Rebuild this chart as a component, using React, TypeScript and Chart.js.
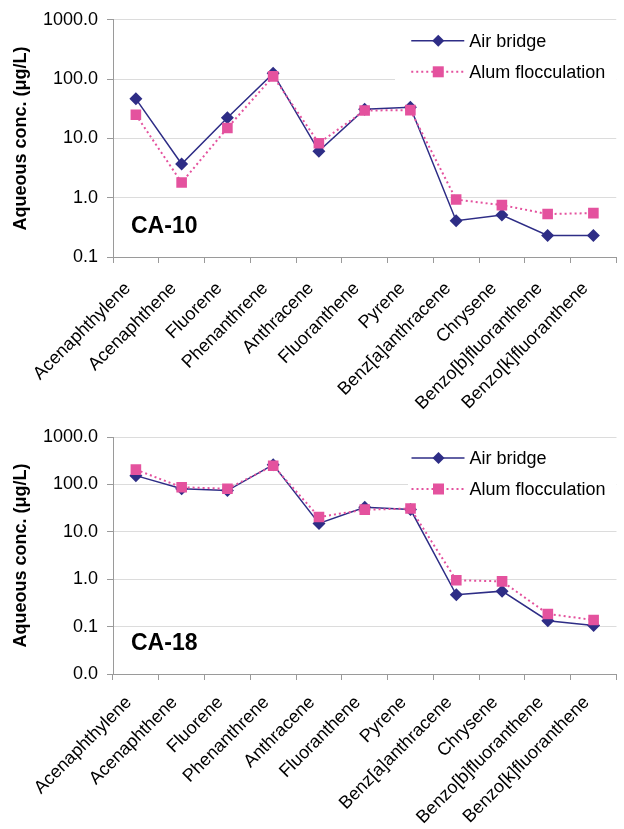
import React, { useEffect, useRef } from 'react';
import { Chart, registerables } from 'chart.js';

Chart.register(...registerables);
Chart.defaults.font.family = '"Liberation Sans", Arial, Helvetica, sans-serif';

// ---------------- DATA ----------------
const categories = [
  'Acenaphthylene',
  'Acenaphthene',
  'Fluorene',
  'Phenanthrene',
  'Anthracene',
  'Fluoranthene',
  'Pyrene',
  'Benz[a]anthracene',
  'Chrysene',
  'Benzo[b]fluoranthene',
  'Benzo[k]fluoranthene',
];

const seriesNames = ['Air bridge', 'Alum flocculation'];

const ca10AirBridge = [46.5, 3.7, 22.3, 125, 6.1, 31, 33.5, 0.41, 0.51, 0.23, 0.23];
const ca10Alum = [25, 1.8, 15, 111, 8.3, 29.5, 30, 0.93, 0.75, 0.53, 0.55];

const ca18AirBridge = [153, 81, 74, 261, 15, 33, 29.5, 0.47, 0.56, 0.133, 0.106];
const ca18Alum = [205, 87, 81, 248, 20.5, 29.3, 31, 0.95, 0.9, 0.185, 0.138];

const ca10TickValues = [0.1, 1, 10, 100, 1000];
const ca10TickLabels = ['0.1', '1.0', '10.0', '100.0', '1000.0'];
const ca18TickValues = [0.01, 0.1, 1, 10, 100, 1000];
const ca18TickLabels = ['0.0', '0.1', '1.0', '10.0', '100.0', '1000.0'];

const yTitle = 'Aqueous conc. (\u03bcg/L)';

// ---------------- STYLE ----------------
const NAVY = '#2e2d86';
const PINK = '#e4529e';
const AXIS = '#9a9a9a';
const GRID = '#dcdcdc';
const FONT = '"Liberation Sans", Arial, Helvetica, sans-serif';

const overlayPlugin = {
  id: 'overlay',
  beforeDatasetsDraw(chart: any, _args: any, opts: any) {
    const { ctx, chartArea } = chart;
    ctx.save();
    ctx.fillStyle = '#ffffff';
    ctx.fillRect(opts.boxLeft, chartArea.top + 4, chartArea.right - opts.boxLeft, 66);
    ctx.restore();
  },
  afterDatasetsDraw(chart: any, _args: any, opts: any) {
    const { ctx, chartArea } = chart;
    ctx.save();
    // panel label
    ctx.font = `bold 23px ${FONT}`;
    ctx.fillStyle = '#000';
    ctx.textBaseline = 'alphabetic';
    ctx.textAlign = 'left';
    ctx.fillText(opts.panelLabel, chartArea.left + 18, chartArea.bottom - 24);

    // legend
    const x0 = chartArea.right - 205;
    const rows = [chartArea.top + 21, chartArea.top + 52];
    // Air bridge
    ctx.strokeStyle = NAVY;
    ctx.lineWidth = 1.5;
    ctx.setLineDash([]);
    ctx.beginPath();
    ctx.moveTo(x0, rows[0]);
    ctx.lineTo(x0 + 53, rows[0]);
    ctx.stroke();
    ctx.fillStyle = NAVY;
    ctx.beginPath();
    const cx = x0 + 27;
    ctx.moveTo(cx, rows[0] - 6);
    ctx.lineTo(cx + 6, rows[0]);
    ctx.lineTo(cx, rows[0] + 6);
    ctx.lineTo(cx - 6, rows[0]);
    ctx.closePath();
    ctx.fill();
    // Alum
    ctx.strokeStyle = PINK;
    ctx.lineWidth = 2;
    ctx.setLineDash([2, 3]);
    ctx.beginPath();
    ctx.moveTo(x0, rows[1]);
    ctx.lineTo(x0 + 53, rows[1]);
    ctx.stroke();
    ctx.setLineDash([]);
    ctx.fillStyle = PINK;
    ctx.fillRect(cx - 5.5, rows[1] - 5.5, 11, 11);

    ctx.fillStyle = '#000';
    ctx.font = `18px ${FONT}`;
    ctx.textBaseline = 'middle';
    ctx.fillText(seriesNames[0], x0 + 58, rows[0] + 1);
    ctx.fillText(seriesNames[1], x0 + 58, rows[1] + 1);
    ctx.restore();
  },
};

type PanelProps = {
  panelLabel: string;
  airBridge: number[];
  alum: number[];
  tickValues: number[];
  tickLabels: string[];
  top: number;
  height: number;
  padTop: number;
  xHeight: number;
  boxLeft: number;
  labelPad: number;
  labelShift: number;
};

function Panel(p: PanelProps) {
  const ref = useRef<HTMLCanvasElement | null>(null);

  useEffect(() => {
    if (!ref.current) return;
    const chart = new Chart(ref.current, {
      type: 'line',
      data: {
        labels: categories,
        datasets: [
          {
            label: seriesNames[0],
            data: p.airBridge,
            borderColor: NAVY,
            backgroundColor: NAVY,
            borderWidth: 1.5,
            pointStyle: 'rectRot',
            pointRadius: 6.5,
            pointBorderWidth: 0,
            pointBackgroundColor: NAVY,
            order: 2,
          },
          {
            label: seriesNames[1],
            data: p.alum,
            borderColor: PINK,
            backgroundColor: PINK,
            borderWidth: 2,
            borderDash: [2, 3],
            pointStyle: 'rect',
            pointRadius: 7.5,
            pointBorderWidth: 0,
            pointBackgroundColor: PINK,
            order: 1,
          },
        ],
      },
      options: {
        responsive: false,
        animation: false,
        devicePixelRatio: 1,
        layout: { padding: { top: p.padTop, right: 6, left: 0, bottom: 0 } },
        plugins: {
          legend: { display: false },
          tooltip: { enabled: false },
          overlay: { panelLabel: p.panelLabel, boxLeft: p.boxLeft },
        } as any,
        scales: {
          x: {
            type: 'category',
            offset: true,
            grid: {
              offset: true,
              drawOnChartArea: false,
              tickLength: 6,
              tickColor: AXIS,
            },
            border: { color: AXIS, width: 1 },
            ticks: {
              autoSkip: false,
              maxRotation: 45,
              minRotation: 45,
              color: '#000',
              font: { size: 18 },
              padding: p.labelPad,
              labelOffset: p.labelShift,
            },
            afterFit: (s: any) => {
              s.height = p.xHeight;
            },
          },
          y: {
            type: 'logarithmic',
            min: p.tickValues[0],
            max: p.tickValues[p.tickValues.length - 1],
            afterBuildTicks: (s: any) => {
              s.ticks = p.tickValues.map((v) => ({ value: v }));
            },
            afterFit: (s: any) => {
              s.width = 113;
            },
            grid: { color: GRID, tickLength: 6, tickColor: AXIS },
            border: { color: AXIS, width: 1 },
            ticks: {
              autoSkip: false,
              color: '#000',
              font: { size: 18 },
              padding: 9,
              callback: (v: any) => {
                const i = p.tickValues.findIndex((t) => Math.abs(Math.log10(t) - Math.log10(Number(v))) < 1e-6);
                return i >= 0 ? p.tickLabels[i] : '';
              },
            },
            title: {
              display: true,
              text: yTitle,
              color: '#000',
              font: { size: 18, weight: 'bold' },
              padding: { top: 10, bottom: 0 },
            },
          },
        },
      } as any,
      plugins: [overlayPlugin],
    });
    return () => chart.destroy();
  }, []);

  return (
    <canvas
      ref={ref}
      width={624}
      height={p.height}
      style={{ position: 'absolute', left: 0, top: p.top, width: 624, height: p.height, display: 'block' }}
    />
  );
}

export default function App() {
  return (
    <div style={{ position: 'absolute', left: 0, top: 0, width: 624, height: 829, background: '#fff' }}>
      <Panel
        panelLabel="CA-10"
        airBridge={ca10AirBridge}
        alum={ca10Alum}
        tickValues={ca10TickValues}
        tickLabels={ca10TickLabels}
        top={0}
        height={415}
        padTop={19}
        xHeight={158}
        boxLeft={395}
        labelPad={15}
        labelShift={-8}
      />
      <Panel
        panelLabel="CA-18"
        airBridge={ca18AirBridge}
        alum={ca18Alum}
        tickValues={ca18TickValues}
        tickLabels={ca18TickLabels}
        top={415}
        height={414}
        padTop={22}
        xHeight={155}
        boxLeft={408}
        labelPad={12}
        labelShift={-7}
      />
    </div>
  );
}
